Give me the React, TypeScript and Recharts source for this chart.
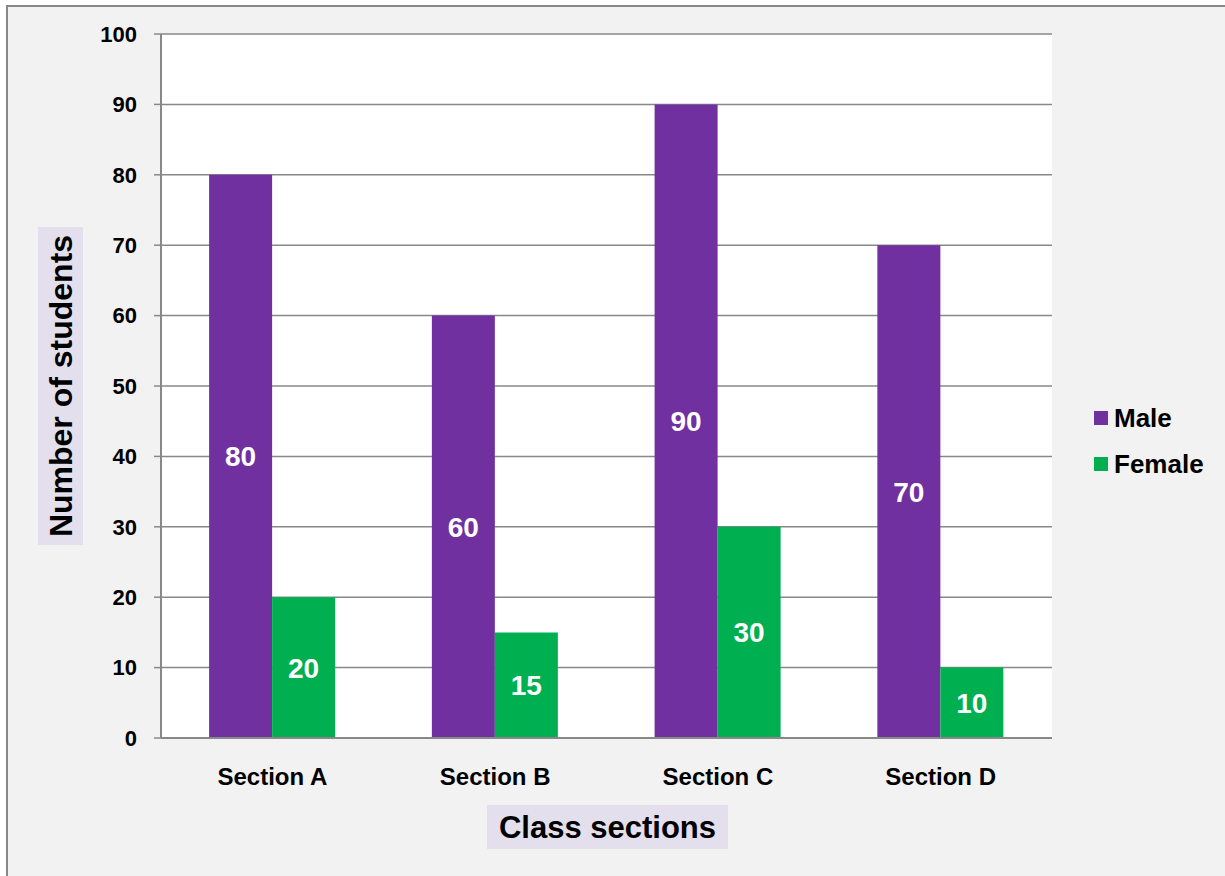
import React from "react";
import { BarChart, Bar, XAxis, YAxis, CartesianGrid, Legend, LabelList, Label } from "recharts";

const categories = ["Section A", "Section B", "Section C", "Section D"];
const maleValues = [80, 60, 90, 70];
const femaleValues = [20, 15, 30, 10];
const yTicks = [0, 10, 20, 30, 40, 50, 60, 70, 80, 90, 100];
const seriesOrder = ["Male", "Female"];

const data = categories.map((c, i) => ({ name: c, Male: maleValues[i], Female: femaleValues[i] }));

const FONT = "'Liberation Sans', Arial, sans-serif";
const LABEL_BG = "#e4dfec";

const YLabel = (props: any) => {
  const vb = props.viewBox || {};
  const cx = vb.x - 40.5;
  const cy = vb.y + vb.height / 2;
  return (
    <g>
      <rect x={cx - 22.5} y={cy - 159} width={45} height={318} fill={LABEL_BG} />
      <text
        x={cx}
        y={cy}
        transform={`rotate(-90 ${cx} ${cy})`}
        textAnchor="middle"
        dominantBaseline="central"
        fontFamily={FONT}
        fontWeight="bold"
        fontSize={32}
        fill="#000"
      >
        Number of students
      </text>
    </g>
  );
};

const XLabel = (props: any) => {
  const vb = props.viewBox || {};
  const cx = vb.x + vb.width / 2 + 1;
  const cy = vb.y + 89;
  return (
    <g>
      <rect x={cx - 120.5} y={cy - 22} width={241} height={44} fill={LABEL_BG} />
      <text
        x={cx}
        y={cy}
        textAnchor="middle"
        dominantBaseline="central"
        fontFamily={FONT}
        fontWeight="bold"
        fontSize={31}
        fill="#000"
      >
        Class sections
      </text>
    </g>
  );
};

const LegendContent = (props: any) => {
  const payload = [...(props.payload || [])].sort(
    (a: any, b: any) => seriesOrder.indexOf(a.value) - seriesOrder.indexOf(b.value)
  );
  return (
    <div style={{ fontFamily: FONT }}>
      {payload.map((p: any) => (
        <div key={p.value} style={{ display: "flex", alignItems: "center", height: 46 }}>
          <span style={{ display: "inline-block", width: 14, height: 14, background: p.color, marginRight: 6 }} />
          <span style={{ fontSize: 26, fontWeight: "bold", color: "#000" }}>{p.value}</span>
        </div>
      ))}
    </div>
  );
};

export default function App() {
  return (
    <div style={{ position: "fixed", left: 0, top: 0, width: 1225, height: 876, overflow: "hidden", background: "#fff" }}>
      <div
        style={{
          position: "absolute",
          left: 6,
          top: 5,
          width: 1400,
          height: 1000,
          borderLeft: "2px solid #888",
          borderTop: "2px solid #888",
          background: "#f2f2f2",
        }}
      />
      <div style={{ position: "absolute", left: 0, top: 0 }}>
        <BarChart
          width={1225}
          height={876}
          data={data}
          margin={{ top: 34, right: 173, left: 101, bottom: 78 }}
          barCategoryGap="21.6%"
          barGap={0}
        >
          <CartesianGrid vertical={false} stroke="#888" strokeWidth={1.5} fill="#fff" />
          <XAxis
            dataKey="name"
            height={60}
            tickLine={false}
            tickSize={0}
            tickMargin={30}
            axisLine={{ stroke: "#888", strokeWidth: 2 }}
            tick={{ fill: "#000", fontFamily: FONT, fontWeight: "bold", fontSize: 24 }}
            interval={0}
          >
            <Label content={<XLabel />} />
          </XAxis>
          <YAxis
            width={60}
            domain={[0, 100]}
            ticks={yTicks}
            interval={0}
            tickSize={7}
            tickMargin={17}
            tickLine={{ stroke: "#888", strokeWidth: 1.5 }}
            axisLine={{ stroke: "#888", strokeWidth: 2 }}
            tick={{ fill: "#000", fontFamily: FONT, fontWeight: "bold", fontSize: 22 }}
          >
            <Label content={<YLabel />} />
          </YAxis>
          <Legend
            layout="vertical"
            align="center"
            verticalAlign="middle"
            content={<LegendContent />}
            wrapperStyle={{ left: 1094, top: 395, width: 130 }}
          />
          <Bar dataKey="Male" fill="#7030a0" isAnimationActive={false}>
            <LabelList dataKey="Male" position="center" fill="#fff" fontFamily={FONT} fontWeight="bold" fontSize={28} />
          </Bar>
          <Bar dataKey="Female" fill="#00b050" isAnimationActive={false}>
            <LabelList dataKey="Female" position="center" fill="#fff" fontFamily={FONT} fontWeight="bold" fontSize={28} />
          </Bar>
        </BarChart>
      </div>
    </div>
  );
}
